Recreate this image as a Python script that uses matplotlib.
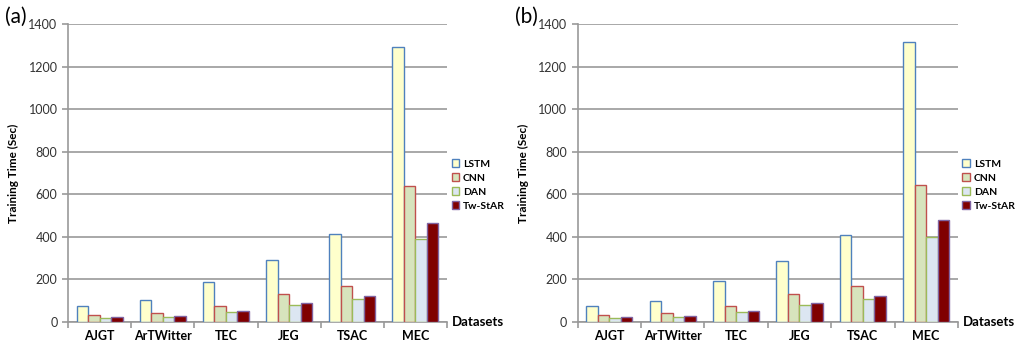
import numpy as np
from matplotlib import pyplot as plt

datasets = ['AJGT', 'ArTWitter', 'TEC', 'JEG', 'TSAC', 'MEC']
models = ['LSTM', 'CNN', 'DAN', 'Tw-StAR']

# panel (a)
lstm_a = [77, 102, 186, 290, 412, 1293]
cnn_a = [34, 42, 75, 130, 169, 637]
dan_a = [19, 23, 47, 80, 106, 390]
twstar_a = [23, 27, 52, 89, 122, 466]

# panel (b)
lstm_b = [77, 97, 192, 285, 410, 1318]
cnn_b = [34, 42, 75, 130, 170, 643]
dan_b = [19, 23, 47, 80, 108, 399]
twstar_b = [22, 27, 50, 89, 124, 479]

# Excel-ish look: fill and edge colours are offset
fills = ['#FFFFCC', '#D7E4BD', '#DCE6F2', '#800000']
edges = ['#4F81BD', '#C0504D', '#9BBB59', '#8064A2']

plt.rcParams['font.family'] = ['Lato', 'DejaVu Sans']

fig = plt.figure(figsize=(10.19, 3.44), dpi=100)


def drawPanel(ax, series, tag):
    x = np.arange(len(datasets))
    w = 1 / 5.5
    for i, vals in enumerate(series):
        ax.bar(x + (i - 1.5) * w, vals, w, color=fills[i], edgecolor=edges[i],
               linewidth=1.0, label=models[i], zorder=3)
    ax.set_xlim(-0.5, len(datasets) - 0.5)
    ax.set_ylim(0, 1400)
    ax.set_yticks(range(0, 1401, 200))
    ax.yaxis.grid(True, color='#999999', linewidth=1.2, zorder=0)
    for s in ['top', 'right']:
        ax.spines[s].set_visible(False)
    ax.spines['left'].set_color('#999999')
    ax.spines['bottom'].set_color('#999999')
    ax.spines['left'].set_linewidth(1.2)
    ax.spines['bottom'].set_linewidth(1.2)
    ax.set_xticks(x)
    ax.set_xticklabels(datasets, fontweight='bold', fontsize=9)
    ax.tick_params(axis='x', length=0, pad=6)
    ax.set_xticks(np.arange(-0.5, len(datasets), 1), minor=True)
    ax.tick_params(axis='x', which='minor', length=4, color='#999999', width=1.2)
    ax.tick_params(axis='y', length=4, color='#999999', width=1.2, labelsize=9,
                   labelcolor='#333333')
    ax.set_ylabel('Training Time (Sec)', fontweight='bold', fontsize=8.5, labelpad=7)
    ax.text(1.012, 0, 'Datasets', transform=ax.transAxes, fontweight='bold',
            fontsize=9.5, va='center', ha='left')
    ax.text(-0.165, 1.025, tag, transform=ax.transAxes, fontsize=15, va='center', ha='left')
    ax.legend(loc='center left', bbox_to_anchor=(1.012, 0.46), frameon=False,
              prop={'weight': 'bold', 'size': 7.5}, borderpad=0, borderaxespad=0,
              handlelength=0.7, handleheight=0.7, handletextpad=0.4,
              labelspacing=0.45)


ax1 = fig.add_axes([0.0667, 0.064, 0.372, 0.866])
drawPanel(ax1, [lstm_a, cnn_a, dan_a, twstar_a], '(a)')
ax2 = fig.add_axes([0.567, 0.064, 0.373, 0.866])
drawPanel(ax2, [lstm_b, cnn_b, dan_b, twstar_b], '(b)')

fig.savefig('out.png', dpi=100)
